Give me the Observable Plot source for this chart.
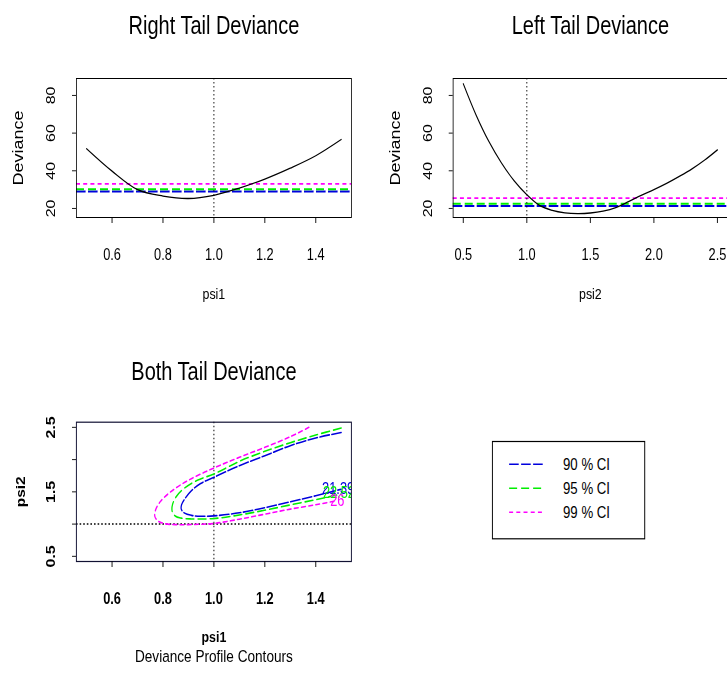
<!DOCTYPE html>
<html><head><meta charset="utf-8">
<script src="https://cdn.jsdelivr.net/npm/d3@7"></script>
<script src="https://cdn.jsdelivr.net/npm/@observablehq/plot@0.6"></script>
<style>
html,body{margin:0;padding:0;overflow:hidden;background:#fff;}
#stage{position:absolute;left:0;top:0;width:908.75px;height:674px;transform:scaleX(0.8);transform-origin:0 0;font-family:"Liberation Sans",Arial,sans-serif;}
#stage > svg, #stage > div{position:absolute;}
</style></head><body><div id="stage"></div>
<script>
// ---------- data ----------
const psi1Grid = [0.5, 0.6, 0.7, 0.8, 0.9, 1.0, 1.1, 1.2, 1.3, 1.4, 1.5];
const rightDev = [51.7, 39.8, 30.0, 26.6, 25.3, 27.0, 30.8, 35.6, 41.4, 48.0, 56.6];
const psi2Grid = [0.5, 0.6, 0.7, 0.8, 0.9, 1.0, 1.1, 1.2, 1.3, 1.4, 1.5, 1.6, 1.7, 1.8, 1.9, 2.0, 2.1, 2.2, 2.3, 2.4, 2.5];
const leftDev  = [86.2, 69.7, 55.7, 44.2, 34.7, 27.3, 21.6, 19.0, 17.7, 17.3, 17.6, 18.6, 20.5, 23.6, 27.0, 30.0, 33.3, 37.0, 41.0, 45.7, 51.1];
const rightCut = [29.0, 30.2, 33.0];
const leftCut  = [21.3, 22.5, 25.5];
const ciLabels = ["90 % CI", "95 % CI", "99 % CI"];
const ciColors = ["#0000dd", "#00ee00", "#ff00ff"];
const ciDash   = ["12,3", "10,5", "5,4"];

// contour (psi1, psi2) traces: upper branch -> tip -> lower branch
const c90psi1 = [1.5, 1.4, 1.3, 1.2, 1.1, 1.0, 0.948, 0.912, 0.887, 0.873, 0.872, 0.885, 0.912, 0.948, 1.0, 1.1, 1.2, 1.3, 1.4, 1.5];
const c90psi2 = [2.42, 2.335, 2.216, 2.06, 1.906, 1.725, 1.63, 1.52, 1.40, 1.30, 1.23, 1.17, 1.135, 1.122, 1.128, 1.175, 1.255, 1.345, 1.44, 1.54];
const c95psi1 = [1.5, 1.4, 1.3, 1.2, 1.1, 1.0, 0.935, 0.885, 0.853, 0.838, 0.836, 0.848, 0.872, 0.91, 1.0, 1.1, 1.2, 1.3, 1.4, 1.5];
const c95psi2 = [2.49, 2.381, 2.262, 2.128, 1.973, 1.777, 1.68, 1.56, 1.43, 1.31, 1.2, 1.125, 1.092, 1.08, 1.086, 1.142, 1.215, 1.298, 1.379, 1.466];
const c99psi1 = [1.373, 1.3, 1.2, 1.1, 1.0, 0.9, 0.83, 0.79, 0.771, 0.768, 0.78, 0.805, 0.85, 0.948, 1.0, 1.1, 1.2, 1.3, 1.4, 1.471];
const c99psi2 = [2.5, 2.355, 2.19, 2.035, 1.87, 1.68, 1.5, 1.35, 1.22, 1.12, 1.05, 1.008, 0.992, 0.998, 1.01, 1.076, 1.154, 1.232, 1.30, 1.353];
const contourLabels = ["21.39", "22.52", "26"];
const contourLabelPsi1 = [1.425, 1.428, 1.457];
const contourLabelPsi2 = [1.553, 1.478, 1.367];

const xTicks1 = [0.6, 0.8, 1.0, 1.2, 1.4];
const xTicks2 = [0.5, 1.0, 1.5, 2.0, 2.5];
const devTicks = [20, 40, 60, 80];
const psi2Ticks = [0.5, 1.0, 1.5, 2.0, 2.5];
const psi2TickLabels = [0.5, 1.5, 2.5];

// ---------- drawing ----------
const FONT = '"Liberation Sans", Arial, sans-serif';
const fmt1 = d3.format(".1f");
const stage = document.getElementById("stage");

function place(el, left, top) {
  el.style.left = left + "px";
  el.style.top = top + "px";
  stage.appendChild(el);
}

function topPanel({xs, ys, xDomain, xTicks, cuts, title, xlabel, width, mL, mR, left}) {
  const chart = Plot.plot({
    width, height: 330,
    marginLeft: mL, marginRight: mR, marginTop: 78, marginBottom: 113,
    x: {domain: xDomain, label: null},
    y: {domain: [15.2, 89], label: null},
    style: {fontFamily: FONT, fontSize: "16px", color: "black", background: "transparent", overflow: "visible"},
    marks: [
      ...cuts.map((v, i) => Plot.ruleY([v], {stroke: ciColors[i], strokeDasharray: ciDash[i], strokeWidth: 1.8})),
      Plot.ruleX([1.0], {stroke: "black", strokeDasharray: "1.5,2.5", strokeWidth: 1}),
      Plot.line(xs, {x: xs, y: ys, curve: "catmull-rom", stroke: "black", strokeWidth: 1.3}),
      Plot.frame({stroke: "black", strokeWidth: 1}),
      Plot.axisX(xTicks, {tickSize: 6, tickPadding: 25, tickFormat: fmt1, fontSize: 16, label: null}),
      Plot.axisY(devTicks, {tickSize: 5, tickFormat: () => "", label: null}),
      Plot.text(devTicks, {y: d => d, text: d => String(d), frameAnchor: "left", textAnchor: "middle", rotate: -90, dx: -31.5, fontSize: 16}),
      Plot.text([title], {text: d => d, frameAnchor: "top", dy: -62, fontSize: 25}),
      Plot.text([xlabel], {text: d => d, frameAnchor: "bottom", dy: 81, fontSize: 15.5}),
      Plot.text(["Deviance"], {text: d => d, frameAnchor: "left", textAnchor: "middle", rotate: -90, dx: -72.5, fontSize: 18})
    ]
  });
  place(chart, left, 0);
}

topPanel({xs: psi1Grid, ys: rightDev, xDomain: [0.46, 1.54], xTicks: xTicks1, cuts: rightCut,
  title: "Right Tail Deviance", xlabel: "psi1", width: 454, mL: 95, mR: 15.25, left: 0});
topPanel({xs: psi2Grid, ys: leftDev, xDomain: [0.42, 2.58], xTicks: xTicks2, cuts: leftCut,
  title: "Left Tail Deviance", xlabel: "psi2", width: 455, mL: 111.9, mR: 0, left: 454});

// bottom contour panel
const contours = [[c90psi1, c90psi2], [c95psi1, c95psi2], [c99psi1, c99psi2]];
const bottom = Plot.plot({
  width: 454, height: 344,
  marginLeft: 95, marginRight: 15.25, marginTop: 91.7, marginBottom: 113,
  x: {domain: [0.46, 1.54], label: null},
  y: {domain: [0.42, 2.58], label: null},
  style: {fontFamily: FONT, fontSize: "16px", color: "black", background: "transparent", overflow: "visible"},
  marks: [
    Plot.ruleX([1.0], {stroke: "black", strokeDasharray: "1.5,2.5", strokeWidth: 1.2}),
    Plot.ruleY([1.0], {stroke: "black", strokeDasharray: "2,2.5", strokeWidth: 1.5}),
    ...contours.map(([px, py], i) => Plot.line(px, {x: px, y: py, curve: "catmull-rom", stroke: ciColors[i], strokeDasharray: ciDash[i], strokeWidth: 1.6, clip: true})),
    ...contourLabels.map((t, i) => Plot.text([t], {x: [contourLabelPsi1[i]], y: [contourLabelPsi2[i]], text: d => d, fill: ciColors[i], textAnchor: "start", fontSize: 16, clip: true})),
    Plot.frame({stroke: "#111133", strokeWidth: 1.2}),
    Plot.axisX(xTicks1, {tickSize: 6, tickPadding: 25, tickFormat: fmt1, fontSize: 16, fontWeight: "bold", label: null}),
    Plot.axisY(psi2Ticks, {tickSize: 5, tickFormat: () => "", label: null}),
    Plot.text(psi2TickLabels, {y: d => d, text: d => fmt1(d), frameAnchor: "left", textAnchor: "middle", rotate: -90, dx: -31.5, fontSize: 16, fontWeight: "bold"}),
    Plot.text(["Both Tail Deviance"], {text: d => d, frameAnchor: "top", dy: -60, fontSize: 25}),
    Plot.text(["psi1"], {text: d => d, frameAnchor: "bottom", dy: 80.7, fontSize: 15.5, fontWeight: "bold"}),
    Plot.text(["Deviance Profile Contours"], {text: d => d, frameAnchor: "bottom", dy: 100.7, fontSize: 17}),
    Plot.text(["psi2"], {text: d => d, frameAnchor: "left", textAnchor: "middle", rotate: -90, dx: -68.75, fontSize: 15.5, fontWeight: "bold"})
  ]
});
place(bottom, 0, 330);

// legend
const leg = d3.create("svg").attr("width", 200).attr("height", 110)
  .style("font-family", FONT).style("overflow", "visible");
leg.append("rect").attr("x", 0.5).attr("y", 0.5).attr("width", 190.4).attr("height", 97.3)
  .attr("fill", "white").attr("stroke", "black").attr("stroke-width", 1.2);
ciLabels.forEach((lab, i) => {
  const yy = 23.3 + i * 24;
  leg.append("line").attr("x1", 21.4).attr("x2", 66.4).attr("y1", yy).attr("y2", yy)
    .attr("stroke", ciColors[i]).attr("stroke-dasharray", ciDash[i]).attr("stroke-width", 1.6);
  leg.append("text").attr("x", 88.8).attr("y", yy).attr("dy", "0.35em")
    .attr("font-size", 16.5).attr("fill", "black").text(lab);
});
place(leg.node(), 614.6, 441.2);
</script>
</body></html>
